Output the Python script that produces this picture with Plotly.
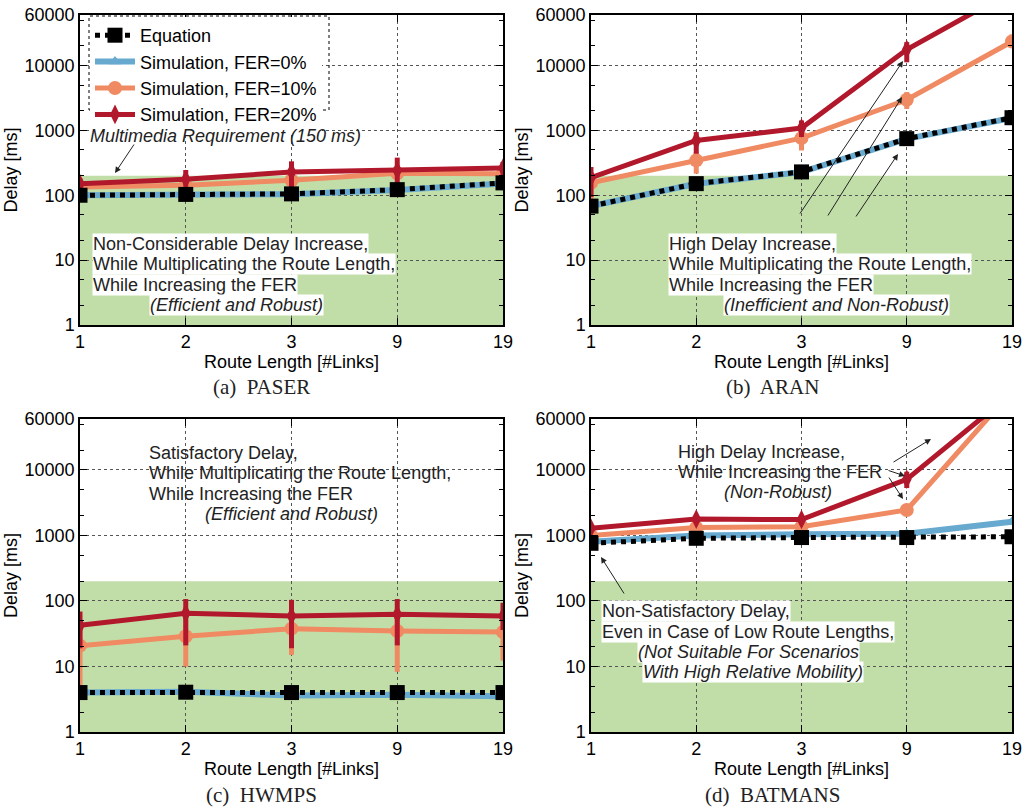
import plotly.graph_objects as go
import math

W, H = 1023, 807

# ---------------- data ----------------
route_labels = ["1", "2", "3", "9", "19"]
route_pos = [0, 1, 2, 3, 4]

# (a) PASER
paser_eq = [100, 103, 105, 122, 155]
paser_f0 = [100, 102, 104, 120, 152]
paser_f10 = [134, 142, 170, 218, 215]
paser_f10_hi = [150, 160, 195, 250, 240]
paser_f10_lo = [120, 125, 150, 190, 195]
paser_f20 = [150, 176, 229, 241, 263]
paser_f20_hi = [180, 245, 333, 380, 326]
paser_f20_lo = [120, 135, 134, 151, 191]

# (b) ARAN
aran_eq = [68, 151, 229, 745, 1567]
aran_f0 = [68, 150, 228, 740, 1560]
aran_f10 = [155, 345, 760, 2960, 23400]
aran_f10_hi = [175, 466, 940, 3890, 30000]
aran_f10_lo = [84, 215, 490, 2140, 19000]
aran_f20 = [187, 700, 1085, 17600, 140000]
aran_f20_hi = [272, 940, 1420, 22900, 140000]
aran_f20_lo = [94, 437, 790, 11200, 140000]

# (c) HWMPS
hwmps_eq = [4.0, 4.05, 4.0, 4.0, 4.0]
hwmps_f0 = [4.0, 4.1, 3.6, 3.7, 3.5]
hwmps_f10 = [20.8, 29, 37.8, 34.8, 33.6]
hwmps_f10_hi = [45, 60, 65, 60, 55]
hwmps_f10_lo = [4.5, 10, 15, 8.3, 12.3]
hwmps_f20 = [42.5, 65, 59, 62.7, 59]
hwmps_f20_hi = [69, 107, 104, 107, 94]
hwmps_f20_lo = [19, 21, 19, 21, 36]

# (d) BATMANS
bat_eq = [760, 906, 930, 930, 956]
bat_f0 = [800, 1000, 1040, 1060, 1620]
bat_f10 = [1000, 1320, 1360, 2450, 160000]
bat_f10_hi = [1080, 1420, 1460, 2700, 160000]
bat_f10_lo = [930, 1230, 1270, 2250, 160000]
bat_f20 = [1290, 1780, 1750, 7200, 148000]
bat_f20_hi = [1420, 1950, 1920, 9400, 148000]
bat_f20_lo = [1170, 1620, 1590, 5300, 148000]

requirement_band = [1, 200]
ytick_vals = [1, 10, 100, 1000, 10000, 60000]
ytick_text = ["1", "10", "100", "1000", "10000", "60000"]

series_names = ["Equation", "Simulation, FER=0%", "Simulation, FER=10%", "Simulation, FER=20%"]
C_BLUE = "#67a9cf"
C_ORANGE = "#ef8a62"
C_RED = "#b2182b"
C_GREEN = "#c2dea8"

FONT = "Liberation Sans, Arial, sans-serif"
SERIF = "Liberation Serif, Times New Roman, serif"
FS = 18


def px(x):
    return x / W


def py(y):
    return 1 - y / H


panels = [
    dict(eq=paser_eq, f0=paser_f0, f10=paser_f10, f10h=paser_f10_hi, f10l=paser_f10_lo,
         f20=paser_f20, f20h=paser_f20_hi, f20l=paser_f20_lo, xd=(80, 503), yd=(15, 325)),
    dict(eq=aran_eq, f0=aran_f0, f10=aran_f10, f10h=aran_f10_hi, f10l=aran_f10_lo,
         f20=aran_f20, f20h=aran_f20_hi, f20l=aran_f20_lo, xd=(591, 1012), yd=(15, 325)),
    dict(eq=hwmps_eq, f0=hwmps_f0, f10=hwmps_f10, f10h=hwmps_f10_hi, f10l=hwmps_f10_lo,
         f20=hwmps_f20, f20h=hwmps_f20_hi, f20l=hwmps_f20_lo, xd=(80, 503), yd=(419, 732)),
    dict(eq=bat_eq, f0=bat_f0, f10=bat_f10, f10h=bat_f10_hi, f10l=bat_f10_lo,
         f20=bat_f20, f20h=bat_f20_hi, f20l=bat_f20_lo, xd=(591, 1012), yd=(419, 732)),
]

fig = go.Figure()
layout = dict(
    width=W, height=H, margin=dict(l=0, r=0, t=0, b=0),
    paper_bgcolor="white", plot_bgcolor="white",
    font=dict(family=FONT, size=FS, color="black"),
    showlegend=True,
    shapes=[], annotations=[],
)


def err(vals, hi, lo):
    return dict(type="data", symmetric=False,
                array=[h - v for h, v in zip(hi, vals)],
                arrayminus=[v - l for v, l in zip(vals, lo)])


for i, p in enumerate(panels):
    n = i + 1
    xa = "x" if n == 1 else f"x{n}"
    ya = "y" if n == 1 else f"y{n}"
    show = (i == 0)
    fig.add_trace(go.Scatter(
        x=route_pos, y=p["f0"], xaxis=xa, yaxis=ya, mode="lines+markers",
        name=series_names[1], legendrank=2, showlegend=show,
        line=dict(color=C_BLUE, width=6),
        marker=dict(symbol="triangle-up", size=11, color=C_BLUE)))
    fig.add_trace(go.Scatter(
        x=route_pos, y=p["f10"], xaxis=xa, yaxis=ya, mode="lines+markers",
        name=series_names[2], legendrank=3, showlegend=show,
        line=dict(color=C_ORANGE, width=5),
        marker=dict(symbol="circle", size=14, color=C_ORANGE),
        error_y=dict(err(p["f10"], p["f10h"], p["f10l"]), color=C_ORANGE, thickness=5, width=0)))
    fig.add_trace(go.Scatter(
        x=route_pos, y=p["f20"], xaxis=xa, yaxis=ya, mode="lines+markers",
        name=series_names[3], legendrank=4, showlegend=show,
        line=dict(color=C_RED, width=5),
        marker=dict(symbol="diamond-tall", size=14, color=C_RED),
        error_y=dict(err(p["f20"], p["f20h"], p["f20l"]), color=C_RED, thickness=5, width=0)))
    fig.add_trace(go.Scatter(
        x=route_pos, y=p["eq"], xaxis=xa, yaxis=ya, mode="lines+markers",
        name=series_names[0], legendrank=1, showlegend=show,
        line=dict(color="black", width=5, dash="dot"),
        marker=dict(symbol="square", size=15, color="black")))

    axis_common = dict(
        showline=True, linecolor="black", linewidth=1.5, mirror="allticks",
        ticks="inside", ticklen=7, tickcolor="black", tickwidth=1.2,
        showgrid=True, gridcolor="#555555", gridwidth=1, griddash="dot",
        tickfont=dict(family=FONT, size=FS, color="black"),
        zeroline=False, automargin=False, ticklabeloverflow="allow",
    )
    layout["xaxis" if n == 1 else f"xaxis{n}"] = dict(
        axis_common, domain=[px(p["xd"][0]), px(p["xd"][1])], anchor=ya,
        range=[0, 4], tickmode="array", tickvals=route_pos, ticktext=route_labels,
        ticklabelstandoff=0,
        title=dict(text="Route Length [#Links]", font=dict(family=FONT, size=FS), standoff=0),
    )
    layout["yaxis" if n == 1 else f"yaxis{n}"] = dict(
        axis_common, domain=[py(p["yd"][1]), py(p["yd"][0])], anchor=xa,
        type="log", range=[0, math.log10(60000)],
        tickmode="array", tickvals=ytick_vals, ticktext=ytick_text,
        ticklabelstandoff=0,
        minor=dict(ticks="inside", ticklen=4, tickcolor="black",
                   tickvals=[2, 5, 20, 50, 200, 500, 2000, 5000, 20000, 50000], showgrid=False),
        title=dict(text="Delay [ms]", font=dict(family=FONT, size=FS), standoff=2),
    )
    layout["shapes"].append(dict(
        type="rect", xref=f"{xa} domain", yref=ya, x0=0, x1=1,
        y0=requirement_band[0], y1=requirement_band[1],
        fillcolor=C_GREEN, line=dict(width=0), layer="below"))

# legend box (dotted frame)
layout["legend"] = dict(
    x=px(90), y=py(17), xanchor="left", yanchor="top",
    bgcolor="white", borderwidth=0, font=dict(family=FONT, size=FS),
    traceorder="normal", itemwidth=40, tracegroupgap=0,
)
layout["shapes"].append(dict(
    type="rect", xref="paper", yref="paper", x0=px(89), x1=px(329), y0=py(110), y1=py(16),
    line=dict(color="black", width=1, dash="dot"), fillcolor="rgba(0,0,0,0)", layer="above"))

ann = layout["annotations"]


def label(x, y, text, box=True, size=FS):
    ann.append(dict(
        xref="paper", yref="paper", x=px(x), y=py(y), text=text, showarrow=False,
        xanchor="left", yanchor="middle", font=dict(family=FONT, size=size, color="#222"),
        bgcolor="white" if box else "rgba(0,0,0,0)", borderpad=0))


def arrow(x0, y0, x1, y1):
    ann.append(dict(
        xref="paper", yref="paper", x=px(x1), y=py(y1), ax=x0 - x1, ay=y0 - y1,
        axref="pixel", ayref="pixel", text="", showarrow=True,
        arrowhead=2, arrowsize=1.2, arrowwidth=1, arrowcolor="#222", standoff=0))


# (a)
label(89, 136, "<i>Multimedia Requirement (150 ms)</i>", box=False)
arrow(135, 143, 115, 173)
label(92, 244, "Non-Considerable Delay Increase,")
label(92, 264, "While Multiplicating the Route Length,")
label(92, 285, "While Increasing the FER")
label(149, 305, "<i>(Efficient and Robust)</i>")

# (b)
label(668, 244, "High Delay Increase,")
label(668, 264, "While Multiplicating the Route Length,")
label(668, 285, "While Increasing the FER")
label(723, 305, "<i>(Inefficient and Non-Robust)</i>")
arrow(799, 215, 903, 61)
arrow(827, 217, 902, 97)
arrow(855, 218, 898, 154)

# (c)
label(148, 453, "Satisfactory Delay,", box=False)
label(148, 473, "While Multiplicating the Route Length,", box=False)
label(148, 494, "While Increasing the FER", box=False)
label(204, 514, "<i>(Efficient and Robust)</i>", box=False)

# (d)
label(677, 452, "High Delay Increase,", box=False)
label(677, 472, "While Increasing the FER", box=False)
label(723, 492, "<i>(Non-Robust)</i>", box=False)
arrow(892, 463, 931, 439)
arrow(887, 470, 905, 476)
arrow(888, 476, 903, 499)
label(601, 611, "Non-Satisfactory Delay,")
label(601, 632, "Even in Case of Low Route Lengths,")
label(637, 652, "<i>(Not Suitable For Scenarios</i>")
label(642, 672, "<i>With High Relative Mobility)</i>")
arrow(625, 595, 601, 557)

# captions
for cx, cy, t in [(261, 387, "(a)  PASER"), (772, 387, "(b)  ARAN"),
                  (261, 795, "(c)  HWMPS"), (772, 795, "(d)  BATMANS")]:
    ann.append(dict(xref="paper", yref="paper", x=px(cx), y=py(cy), text=t, showarrow=False,
                    xanchor="center", yanchor="middle",
                    font=dict(family=SERIF, size=21, color="#222")))

fig.update_layout(**layout)
fig.write_html("out.html", config={"displayModeBar": False},
               post_script="document.body.style.margin='0';document.body.style.overflow='hidden';")
